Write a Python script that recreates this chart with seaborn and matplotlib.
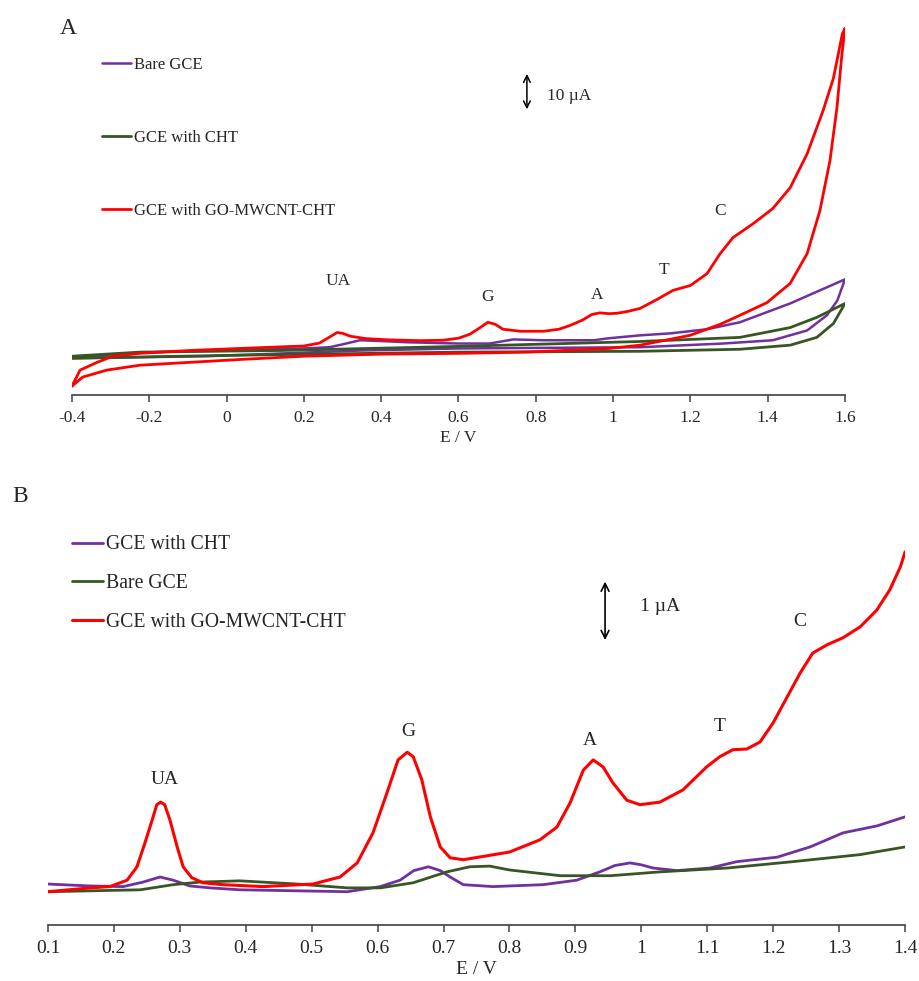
import numpy as np
import pandas as pd
import matplotlib
matplotlib.use("Agg")
import matplotlib.pyplot as plt
import seaborn as sns

# ---------------- Panel A : cyclic voltammograms (E / V, I / uA) ----------------
a_red_fwd_E = [-0.40, -0.379, -0.335, -0.294, -0.224, -0.095, 0.035, 0.2, 0.24, 0.265, 0.286, 0.30,
               0.32, 0.36, 0.42, 0.5, 0.56, 0.60, 0.63, 0.656, 0.676, 0.695, 0.715, 0.76, 0.82,
               0.86, 0.888, 0.92, 0.945, 0.965, 0.99, 1.01, 1.04, 1.07, 1.114, 1.155, 1.2, 1.243,
               1.277, 1.31, 1.362, 1.413, 1.458, 1.502, 1.543, 1.57, 1.593, 1.60]
a_red_fwd_I = [-6.3, -2.4, -0.5, 1.0, 1.7, 2.4, 2.9, 3.5, 4.2, 5.6, 6.8, 6.6,
               5.9, 5.3, 5.0, 4.8, 4.9, 5.4, 6.4, 8.0, 9.3, 8.8, 7.6, 7.1, 7.1,
               7.6, 8.5, 9.8, 11.2, 11.6, 11.4, 11.5, 12.0, 12.7, 14.9, 17.1, 18.3, 21.2,
               26.1, 30.0, 33.4, 37.1, 42.2, 50.5, 61.0, 69.0, 79.8, 81.2]
a_red_rev_E = [1.60, 1.592, 1.579, 1.561, 1.535, 1.502, 1.458, 1.398, 1.328, 1.277, 1.199, 1.07,
               0.99, 0.777, 0.604, 0.4, 0.2, 0.035, -0.095, -0.224, -0.31, -0.372, -0.40]
a_red_rev_I = [81.2, 74.9, 61.7, 48.8, 36.6, 26.1, 18.8, 14.1, 11.0, 8.8, 6.1, 3.7,
               2.9, 2.0, 1.7, 1.5, 1.0, 0.2, -0.5, -1.2, -2.4, -4.1, -6.3]

a_pur_fwd_E = [-0.40, -0.224, 0.0, 0.2, 0.267, 0.30, 0.345, 0.40, 0.47, 0.60, 0.68, 0.742, 0.82,
               0.95, 0.99, 1.07, 1.15, 1.243, 1.328, 1.458, 1.60]
a_pur_fwd_I = [0.7, 1.9, 2.4, 2.9, 3.2, 3.9, 4.9, 4.7, 4.4, 4.1, 4.1, 5.1, 4.9,
               4.9, 5.4, 6.1, 6.6, 7.6, 9.3, 13.9, 19.8]
a_pur_rev_E = [1.60, 1.58, 1.553, 1.502, 1.413, 1.284, 1.07, 0.604, 0.35, -0.05, -0.40]
a_pur_rev_I = [19.8, 14.6, 11.0, 7.3, 4.9, 4.1, 3.2, 2.9, 2.4, 1.0, 0.5]

a_grn_fwd_E = [-0.40, -0.224, 0.14, 0.60, 1.07, 1.328, 1.458, 1.527, 1.60]
a_grn_fwd_I = [1.0, 2.0, 2.4, 3.4, 4.6, 5.6, 8.0, 10.5, 13.9]
a_grn_rev_E = [1.60, 1.57, 1.527, 1.458, 1.328, 1.07, 0.604, 0.0, -0.40]
a_grn_rev_I = [13.9, 9.0, 5.6, 3.7, 2.7, 2.2, 2.0, 1.2, 0.5]

a_labels = ["Bare GCE", "GCE with CHT", "GCE with GO-MWCNT-CHT"]
a_ticks = [-0.4, -0.2, 0, 0.2, 0.4, 0.6, 0.8, 1.0, 1.2, 1.4, 1.6]
a_ticklabels = ["-0.4", "-0.2", "0", "0.2", "0.4", "0.6", "0.8", "1", "1.2", "1.4", "1.6"]
a_peaks = ["UA", "G", "A", "T", "C"]
a_peak_E = [0.288, 0.674, 0.958, 1.132, 1.277]
a_peak_I = [19.5, 15.4, 15.9, 22.0, 36.6]

# ---------------- Panel B : differential pulse voltammograms ----------------
b_red_E = [0.10, 0.164, 0.194, 0.22, 0.235, 0.247, 0.258, 0.265, 0.271, 0.277, 0.285, 0.296,
           0.305, 0.318, 0.335, 0.365, 0.426, 0.502, 0.543, 0.569, 0.593, 0.614, 0.631, 0.645,
           0.654, 0.667, 0.68, 0.695, 0.71, 0.73, 0.771, 0.80, 0.846, 0.872, 0.892, 0.912,
           0.927, 0.942, 0.957, 0.978, 0.998, 1.028, 1.063, 1.099, 1.119, 1.139, 1.16, 1.18,
           1.20, 1.221, 1.241, 1.26, 1.282, 1.306, 1.332, 1.357, 1.377, 1.393, 1.40]
b_red_I = [0.05, 0.11, 0.13, 0.23, 0.44, 0.81, 1.17, 1.41, 1.45, 1.41, 1.17, 0.75,
           0.44, 0.27, 0.19, 0.16, 0.13, 0.17, 0.28, 0.50, 0.97, 1.59, 2.11, 2.23,
           2.16, 1.80, 1.22, 0.75, 0.58, 0.55, 0.62, 0.67, 0.86, 1.06, 1.44, 1.95,
           2.11, 2.00, 1.75, 1.48, 1.41, 1.45, 1.64, 2.00, 2.16, 2.27, 2.28, 2.39,
           2.69, 3.09, 3.47, 3.78, 3.91, 4.02, 4.19, 4.45, 4.77, 5.13, 5.36]
b_pur_E = [0.10, 0.164, 0.214, 0.244, 0.27, 0.29, 0.315, 0.346, 0.391, 0.554, 0.604, 0.634,
           0.655, 0.677, 0.695, 0.71, 0.73, 0.775, 0.851, 0.902, 0.937, 0.96, 0.983, 1.0,
           1.018, 1.054, 1.104, 1.145, 1.206, 1.256, 1.306, 1.358, 1.40]
b_pur_I = [0.17, 0.14, 0.13, 0.20, 0.28, 0.23, 0.14, 0.11, 0.08, 0.05, 0.13, 0.23,
           0.38, 0.44, 0.38, 0.28, 0.16, 0.13, 0.16, 0.23, 0.36, 0.46, 0.50, 0.47,
           0.42, 0.38, 0.42, 0.52, 0.59, 0.75, 0.97, 1.08, 1.22]
b_grn_E = [0.10, 0.24, 0.29, 0.33, 0.391, 0.478, 0.554, 0.604, 0.654, 0.705, 0.74, 0.77,
           0.80, 0.877, 0.953, 1.028, 1.13, 1.23, 1.332, 1.40]
b_grn_I = [0.05, 0.08, 0.16, 0.20, 0.22, 0.17, 0.11, 0.11, 0.19, 0.36, 0.44, 0.45,
           0.39, 0.30, 0.30, 0.36, 0.42, 0.52, 0.63, 0.75]

b_labels = ["GCE with CHT", "Bare GCE", "GCE with GO-MWCNT-CHT"]
b_ticks = [0.1, 0.2, 0.3, 0.4, 0.5, 0.6, 0.7, 0.8, 0.9, 1.0, 1.1, 1.2, 1.3, 1.4]
b_ticklabels = ["0.1", "0.2", "0.3", "0.4", "0.5", "0.6", "0.7", "0.8", "0.9", "1", "1.1", "1.2", "1.3", "1.4"]
b_peaks = ["UA", "G", "A", "T", "C"]
b_peak_E = [0.277, 0.646, 0.922, 1.119, 1.241]
b_peak_I = [1.80, 2.55, 2.41, 2.63, 4.27]

PURPLE = "#7030A0"
GREEN = "#375623"
RED = "#FF0000"

sns.set_style("white")
plt.rcParams["font.family"] = ["Liberation Serif", "DejaVu Serif"]

fig = plt.figure(figsize=(9.19, 9.81), dpi=100)
axA = fig.add_axes([0.0783, 0.5973, 0.8412, 0.3772])
axB = fig.add_axes([0.0522, 0.0571, 0.9326, 0.3822])


def loop_df(fE, fI, rE, rI):
    return pd.DataFrame({"E": list(fE) + list(rE), "I": list(fI) + list(rI)})


# Panel A
dA_p = loop_df(a_pur_fwd_E, a_pur_fwd_I, a_pur_rev_E, a_pur_rev_I)
dA_g = loop_df(a_grn_fwd_E, a_grn_fwd_I, a_grn_rev_E, a_grn_rev_I)
dA_r = loop_df(a_red_fwd_E, a_red_fwd_I, a_red_rev_E, a_red_rev_I)
kw = dict(sort=False, estimator=None)
sns.lineplot(data=dA_p, x="E", y="I", color=PURPLE, lw=1.8, ax=axA, label=a_labels[0], **kw)
sns.lineplot(data=dA_g, x="E", y="I", color=GREEN, lw=2.0, ax=axA, label=a_labels[1], **kw)
sns.lineplot(data=dA_r, x="E", y="I", color=RED, lw=2.0, ax=axA, label=a_labels[2], **kw)
for ln in axA.get_lines():
    ln.set_solid_joinstyle("round")
    ln.set_solid_capstyle("round")

axA.set_xlim(-0.4, 1.6)
axA.set_ylim(-8.5, 82)
axA.set_xticks(a_ticks)
axA.set_xticklabels(a_ticklabels, fontsize=12.5)
axA.set_yticks([])
axA.set_ylabel("")
axA.set_xlabel("E / V", fontsize=12.5, labelpad=3)
for p, e, i in zip(a_peaks, a_peak_E, a_peak_I):
    axA.text(e, i, p, ha="center", va="center", fontsize=12.5)
axA.annotate("", xy=(0.777, 70.7), xytext=(0.777, 60.7),
             arrowprops=dict(arrowstyle="<->", lw=1.1, color="black", mutation_scale=12))
axA.text(0.829, 64.6, "10 µA", ha="left", va="center", fontsize=12.5)
legA = axA.legend(loc="upper left", bbox_to_anchor=(0.030, 0.931), frameon=False, fontsize=12,
                  handlelength=1.75, handletextpad=0.2, labelspacing=3.4, borderaxespad=0)

# Panel B
dB_p = pd.DataFrame({"E": b_pur_E, "I": b_pur_I})
dB_g = pd.DataFrame({"E": b_grn_E, "I": b_grn_I})
dB_r = pd.DataFrame({"E": b_red_E, "I": b_red_I})
sns.lineplot(data=dB_p, x="E", y="I", color=PURPLE, lw=2.0, ax=axB, label=b_labels[0], **kw)
sns.lineplot(data=dB_g, x="E", y="I", color=GREEN, lw=2.0, ax=axB, label=b_labels[1], **kw)
sns.lineplot(data=dB_r, x="E", y="I", color=RED, lw=2.2, ax=axB, label=b_labels[2], **kw)
for ln in axB.get_lines():
    ln.set_solid_joinstyle("round")
    ln.set_solid_capstyle("round")

axB.set_xlim(0.1, 1.4)
axB.set_ylim(-0.47, 5.39)
axB.set_xticks(b_ticks)
axB.set_xticklabels(b_ticklabels, fontsize=14)
axB.set_yticks([])
axB.set_ylabel("")
axB.set_xlabel("E / V", fontsize=14, labelpad=3)
for p, e, i in zip(b_peaks, b_peak_E, b_peak_I):
    axB.text(e, i, p, ha="center", va="center", fontsize=14)
axB.annotate("", xy=(0.945, 4.94), xytext=(0.945, 3.94),
             arrowprops=dict(arrowstyle="<->", lw=1.2, color="black", mutation_scale=14))
axB.text(0.998, 4.5, "1 µA", ha="left", va="center", fontsize=14)
legB = axB.legend(loc="upper left", bbox_to_anchor=(0.0187, 1.06), frameon=False, fontsize=14.2,
                  handlelength=1.6, handletextpad=0.15, labelspacing=1.0, borderaxespad=0)

for ax in (axA, axB):
    for s in ("left", "top", "right"):
        ax.spines[s].set_visible(False)
    ax.spines["bottom"].set_color("#404040")
    ax.spines["bottom"].set_linewidth(1.2)
    ax.tick_params(axis="x", direction="out", length=5, width=1.1, color="#404040", bottom=True, pad=6)

fig.text(68 / 919, 1 - 28 / 981, "A", ha="center", va="center", fontsize=17)
fig.text(20 / 919, 1 - 497 / 981, "B", ha="center", va="center", fontsize=17)

fig.savefig("out.png", dpi=100)
